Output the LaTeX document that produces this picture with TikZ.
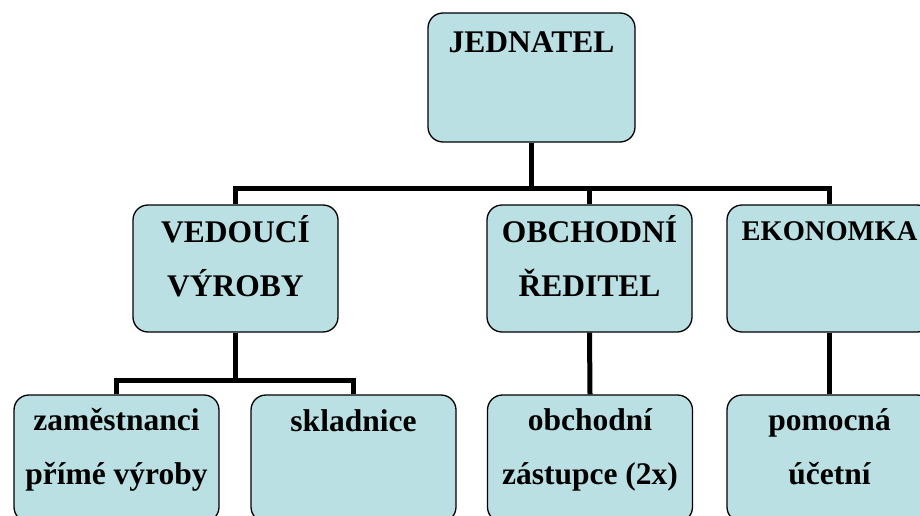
\documentclass[tikz,border=0pt]{standalone}
\usepackage{fontspec}
\setmainfont{Liberation Serif}
\usetikzlibrary{positioning}
\definecolor{boxfill}{RGB}{187,224,227}

\tikzset{
  orgbox/.style={draw=black, line width=1.3pt, rounded corners=15pt, fill=boxfill,
    minimum width=205pt, minimum height=127pt, inner sep=0pt},
  orgtext/.style={font=\bfseries\fontsize{31.5}{54}\selectfont, align=center,
    anchor=base, inner sep=0pt},
  conn/.style={line width=5pt},
}

\begin{document}
\begin{tikzpicture}[x=1pt,y=-1pt]
        \useasboundingbox (0,0) rectangle (920,516);
        \clip (0,0) rectangle (920,516);
        % boxes
        \node[orgbox, minimum width=207pt, minimum height=129pt] (jed) at (531.5,77.5) {};
        \node[orgbox] (ved) at (235.5,268.5) {};
        \node[orgbox] (obch) at (589.5,268.5) {};
        \node[orgbox] (eko) at (829.5,268.5) {};
        \node[orgbox] (zam) at (116.5,458.5) {};
        \node[orgbox] (skl) at (353.5,458.5) {};
        \node[orgbox] (obz) at (590,458.5) {};
        \node[orgbox] (pom) at (829.5,458.5) {};
        % texts (base = last line)
        \node[orgtext] (jedtext) at ([yshift=-40pt]jed.north) {JEDNATEL};
        \node[orgtext] (vedtext) at ([yshift=-92pt]ved.north) {VEDOUC\'I\\V\'YROBY};
        \node[orgtext] (obchtext) at ([yshift=-92pt]obch.north) {OBCHODN\'I\\\v{R}EDITEL};
        \node[orgtext, font=\bfseries\fontsize{28.5}{54}\selectfont] (ekotext) at ([yshift=-36pt]eko.north) {EKONOMKA};
        \node[orgtext] (zamtext) at ([yshift=-90pt]zam.north) {zam\v{e}stnanci\\p\v{r}\'im\'e v\'yroby};
        \node[orgtext] (skltext) at ([yshift=-37pt]skl.north) {skladnice};
        \node[orgtext] (obztext) at ([yshift=-90pt]obz.north) {obchodn\'i\\z\'astupce (2x)};
        \node[orgtext] (pomtext) at ([yshift=-90pt]pom.north) {pomocn\'a\\\'u\v{c}etn\'i};
        % connectors
        \draw[conn] (jed.south) -- ++(0,46) coordinate (bus);
        \draw[conn] (ved.north) |- (bus) -| (eko.north);
        \draw[conn] (bus -| obch.north) -- (obch.north);
        \draw[conn] (ved.south) -- ++(0,48) coordinate (bus2);
        \draw[conn] (zam.north) |- (bus2) -| (skl.north);
        \draw[conn] (obch.south) -- (obz.north);
        \draw[conn] (eko.south) -- (pom.north);
\end{tikzpicture}
\end{document}
